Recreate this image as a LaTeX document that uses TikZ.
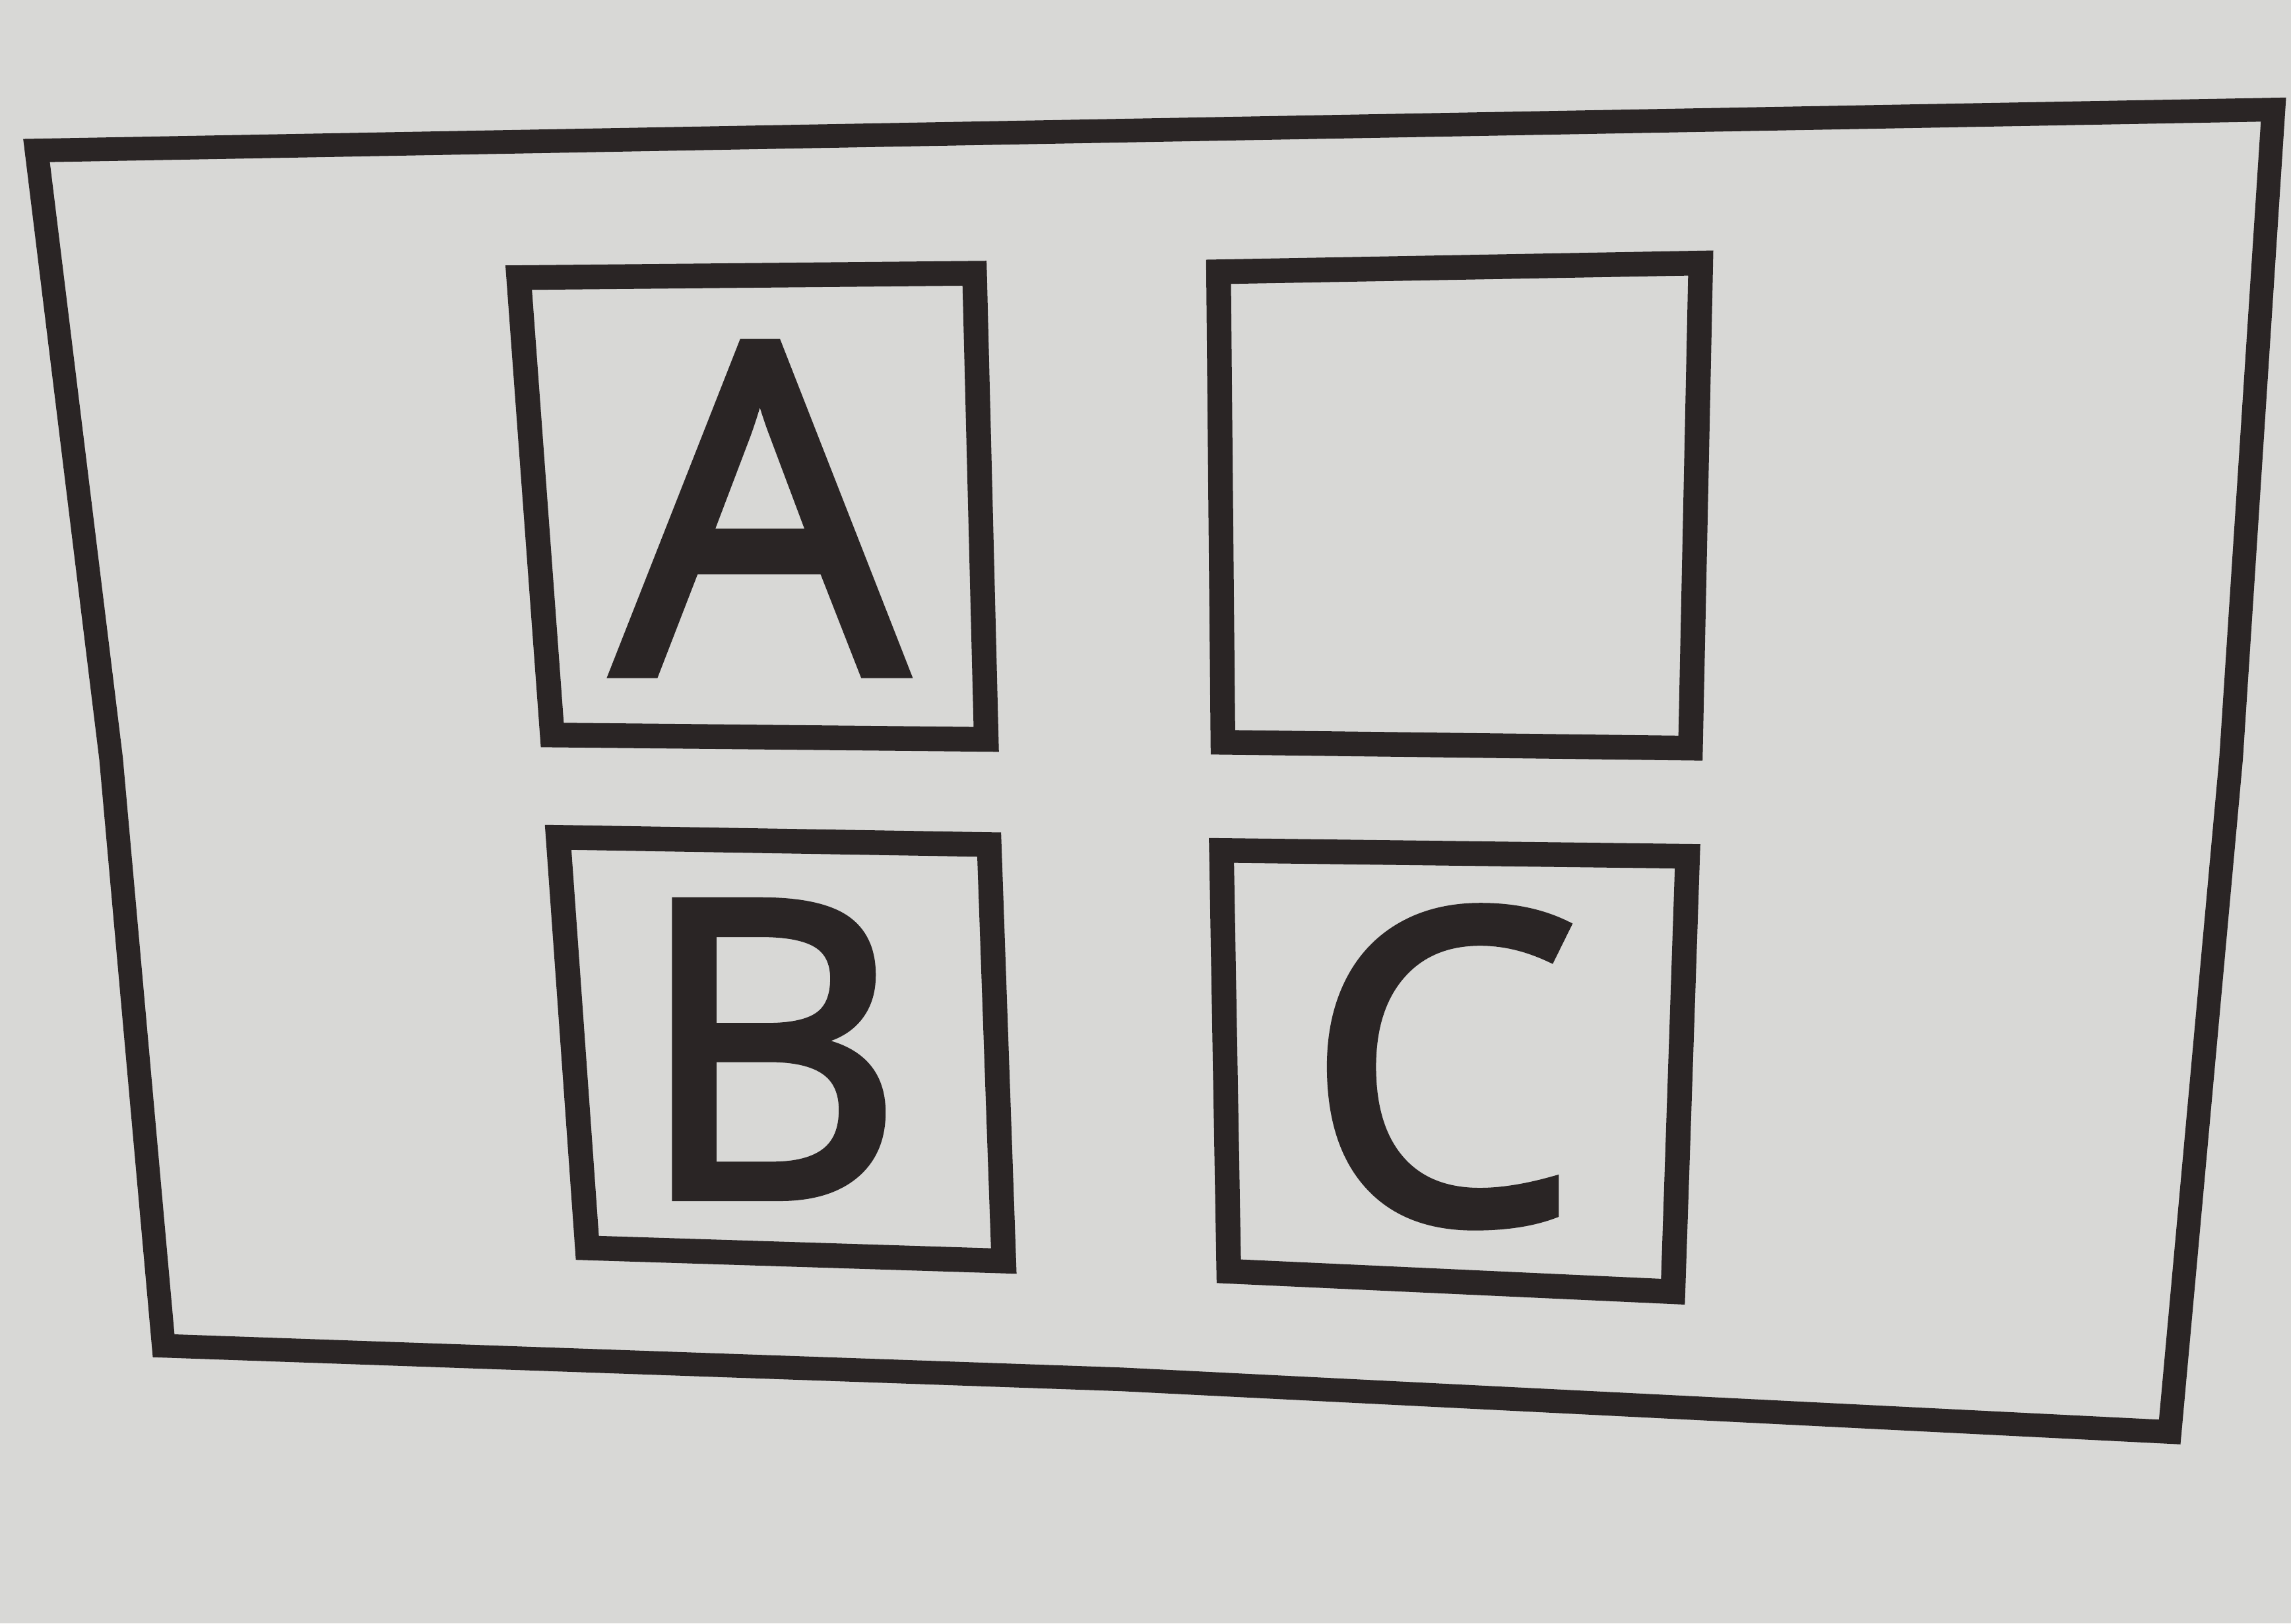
\documentclass[tikz,border=0pt]{standalone}
\usepackage{fontspec}
\setmainfont{Open Sans}
\newfontfamily\heavyfont[FakeBold=2.5]{Open Sans}
\definecolor{paper}{RGB}{216,216,214}
\definecolor{ink}{RGB}{42,37,37}
\tikzset{
  frameline/.style={draw=ink, line width=4.6pt, line join=miter},
  boxline/.style={draw=ink, line width=4.8pt, line join=miter},
  letter/.style={text=ink, inner sep=0pt, outer sep=0pt, anchor=center}
}
\begin{document}
\begin{tikzpicture}[x=0.01cm, y=-0.01cm]
  \fill[paper] (0,0) rectangle (1568,1111);
  \useasboundingbox (0,0) rectangle (1568,1111);
  % outer frame
  \draw[frameline] (25,103) -- (790,89) -- (1556,75) -- (1527,519) -- (1485,980) -- (768,944) -- (112,921) -- (76,519) -- cycle;
  % box A
  \draw[boxline] (355,190) -- (667,187) -- (675,506) -- (378,503) -- cycle;
  % empty box
  \draw[boxline] (834,186) -- (1164,180) -- (1157,512) -- (837,508) -- cycle;
  % box B
  \draw[boxline] (382,573) -- (677,578) -- (687,863) -- (402,854) -- cycle;
  % box C
  \draw[boxline] (836,582) -- (1155,586) -- (1145,884) -- (841,870) -- cycle;
  % letters
  \node[letter, font=\heavyfont\fontsize{89}{89}\selectfont] (la) at (520,348) {A};
  \node[letter, font=\heavyfont\fontsize{80}{80}\selectfont] (lb) at (527,718) {B};
  \node[letter, font=\heavyfont\fontsize{84}{84}\selectfont] (lc) at (987,730) {C};
\end{tikzpicture}
\end{document}
